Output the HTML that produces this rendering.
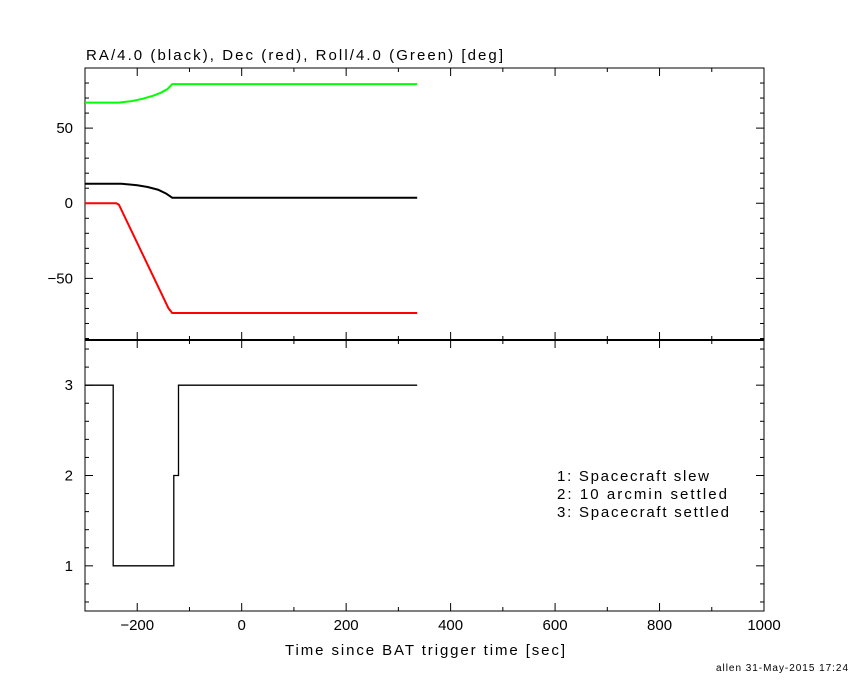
<!DOCTYPE html>
<html><head><meta charset="utf-8"><style>
body{margin:0;background:#fff}
svg{display:block;font-family:"Liberation Sans",sans-serif}
text{font-size:15px;fill:#000}
</style></head><body>
<svg id="c" width="850" height="680">
<text x="86" y="60" textLength="417" lengthAdjust="spacing">RA/4.0 (black), Dec (red), Roll/4.0 (Green) [deg]</text>
<text x="285" y="655" textLength="280" lengthAdjust="spacing">Time since BAT trigger time [sec]</text>
<text x="716" y="671" textLength="132" lengthAdjust="spacing" style="font-size:10px">allen 31-May-2015 17:24</text>
<g>
<text x="557" y="481" textLength="152" lengthAdjust="spacing">1: Spacecraft slew</text>
<text x="557" y="499" textLength="170" lengthAdjust="spacing">2: 10 arcmin settled</text>
<text x="557" y="517" textLength="172" lengthAdjust="spacing">3: Spacecraft settled</text>
</g>
</svg>
<script>
const xTicks=[-200,0,200,400,600,800,1000];
const topTicks=[-50,0,50];
const botTicks=[1,2,3];
const greenT=[-300,-235,-210,-190,-170,-155,-142,-133,336];
const greenV=[67,67,68,69.5,71.5,73.5,76,79.3,79.3];
const blackT=[-300,-230,-200,-180,-160,-145,-133,336];
const blackV=[13,13,12,10.8,9,6.5,3.7,3.7];
const redT=[-300,-240,-235,-140,-133,336];
const redV=[0,0,-1,-70,-73,-73];
const stepT=[-300,-246,-130,-121,336];
const stepV=[3,1,2,3,3];
const L=85,R=764,T=68,M=340,B=611;
const svg=document.getElementById('c');
const NS='http://www.w3.org/2000/svg';
const xs=t=>L+(t+300)/1300*(R-L);
const yTop=v=>T+(90-v)/181*(M-T);
const yBot=v=>M+(3.5-v)/3*(B-M);
function el(tag,attrs){const e=document.createElementNS(NS,tag);for(const k in attrs)e.setAttribute(k,attrs[k]);svg.appendChild(e);return e;}
function line(x1,y1,x2,y2,w){return el('line',{x1,y1,x2,y2,stroke:'#000','stroke-width':w||1});}
const f1=el('rect',{x:L,y:T,width:R-L,height:M-T,fill:'none',stroke:'#000','stroke-width':1});


const f2=el('rect',{x:L,y:M,width:R-L,height:B-M,fill:'none',stroke:'#000','stroke-width':1});


const dv=line(L,M,R,M,2);


for(let t=-300;t<=1000;t+=100){const x=xs(t);const maj=t%200===0;const l=maj?8:4;
 line(x,T,x,T+l);line(x,M,x,M-l);line(x,M,x,M+l);line(x,B,x,B-l);}
for(const t of xTicks){const tx=el('text',{x:xs(t),y:B+19,'text-anchor':'middle'});tx.textContent=t===0?'0':String(t).replace('-','\u2212');
 
 }
for(let v=-90;v<=90;v+=10){const y=yTop(v);const maj=v%50===0;const l=maj?8:4;line(L,y,L+l,y);line(R,y,R-l,y);}
for(const v of topTicks){const tx=el('text',{x:L-12,y:yTop(v)+5,'text-anchor':'end'});tx.textContent=String(v).replace('-','\u2212');
 
 }
for(let i=3;i<=17;i++){const v=i/5;const y=yBot(v);const maj=i%5===0;const l=maj?8:4;line(L,y,L+l,y);line(R,y,R-l,y);}
for(const v of botTicks){const tx=el('text',{x:L-12,y:yBot(v)+5,'text-anchor':'end'});tx.textContent=String(v);
 
 }
function poly(T_,V_,yf,color,w,name){const pts=T_.map((t,i)=>xs(t)+','+yf(V_[i])).join(' ');
 const p=el('polyline',{points:pts,fill:'none',stroke:color,'stroke-width':w});
 
 }
poly(greenT,greenV,yTop,'#00ff00',2,'roll-series');
poly(blackT,blackV,yTop,'#000',2,'ra-series');
poly(redT,redV,yTop,'#ff0000',2,'dec-series');
const sp=[];for(let i=0;i<stepT.length;i++){sp.push(xs(stepT[i])+','+yBot(stepV[i]));if(i+1<stepT.length)sp.push(xs(stepT[i+1])+','+yBot(stepV[i]));}
const st=el('polyline',{points:sp.join(' '),fill:'none',stroke:'#000','stroke-width':1.3});


</script>
</body></html>
